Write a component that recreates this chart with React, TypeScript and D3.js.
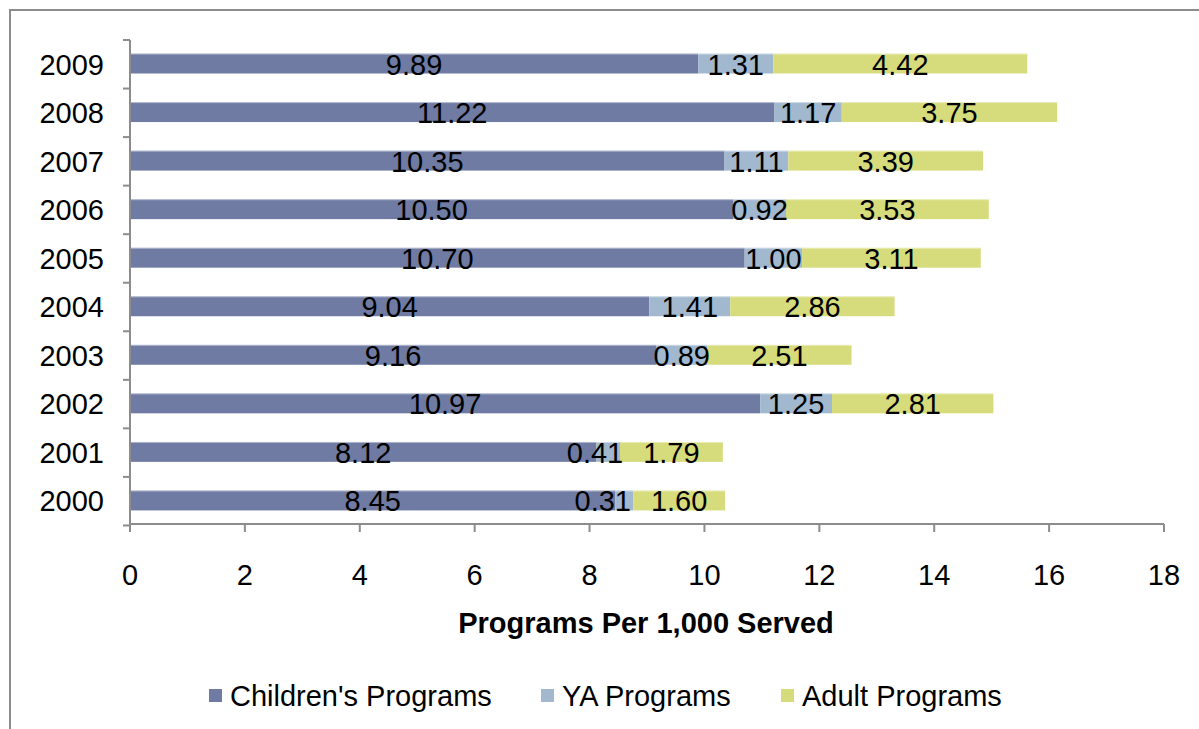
import * as d3 from "d3";

const years = ["2000", "2001", "2002", "2003", "2004", "2005", "2006", "2007", "2008", "2009"];
const childrens = [8.45, 8.12, 10.97, 9.16, 9.04, 10.7, 10.5, 10.35, 11.22, 9.89];
const ya = [0.31, 0.41, 1.25, 0.89, 1.41, 1.0, 0.92, 1.11, 1.17, 1.31];
const adult = [1.6, 1.79, 2.81, 2.51, 2.86, 3.11, 3.53, 3.39, 3.75, 4.42];
const seriesNames = ["Children's Programs", "YA Programs", "Adult Programs"];
const xTicks = [0, 2, 4, 6, 8, 10, 12, 14, 16, 18];

const colors = ["#6f7ba3", "#a1b8cf", "#d6dc7c"];
const axisColor = "#8c8c8c";
const font = "Liberation Sans, Arial, sans-serif";
const fs = 29;

const width = 1199;
const height = 729;
const plotLeft = 130;
const plotRight = 1164;
const plotTop = 40;
const plotBottom = 524;

// rough label width for digits + period in Arial metrics
const labelWidth = (s: string) =>
  s.split("").reduce((w, c) => w + (c === "." ? 0.278 : 0.556), 0) * fs;

const App = () => {
  const xScale = d3.scaleLinear().domain([0, 18]).range([plotLeft, plotRight]);
  const yScale = d3
    .scaleBand()
    .domain([...years].reverse())
    .range([plotTop, plotBottom])
    .paddingInner(0.59)
    .paddingOuter(0.28);
  const step = yScale.step();
  const bandTops = d3.range(years.length + 1).map((i) => plotTop + i * step);
  const bh = yScale.bandwidth();

  // stacked segments, one list per year
  const rows = years.map((year, i) => {
    const vals = [childrens[i], ya[i], adult[i]];
    let acc = 0;
    const segs = vals.map((v, j) => {
      const start = acc;
      acc += v;
      const x0 = xScale(start);
      const x1 = xScale(acc);
      return { year, j, v, text: v.toFixed(2), x0, x1, lx: (x0 + x1) / 2, y: yScale(year)! };
    });
    // nudge the middle label left when it crowds the next one (like Excel does)
    const mid = segs[1];
    const next = segs[2];
    const gap = next.lx - labelWidth(next.text) / 2 - (mid.lx + labelWidth(mid.text) / 2);
    if (gap < 20) mid.lx -= 20 - gap;
    return segs;
  });
  const segments = rows.flat();

  return (
    <svg
      width={width}
      height={height}
      style={{ position: "absolute", left: 0, top: 0, background: "#fff" }}
      fontFamily={font}
    >
      {/* outer border (runs off the right and bottom) */}
      <rect x={10} y={10} width={width + 20} height={height + 20} fill="none" stroke={axisColor} strokeWidth={2} />

      <g className="bars">
        {segments.map((s) => (
          <g key={s.year + s.j}>
            <rect x={s.x0} y={s.y} width={s.x1 - s.x0} height={bh} fill={colors[s.j]} />
            <line x1={s.x0} x2={s.x1} y1={s.y + 0.5} y2={s.y + 0.5} stroke="#fff" strokeOpacity={0.45} />
          </g>
        ))}
      </g>
      <g className="labels">
        {segments.map((s) => (
          <text
            key={s.year + s.j}
            x={s.lx}
            y={s.y + bh / 2 + 1}
            textAnchor="middle"
            dominantBaseline="central"
            fontSize={fs}
            fill="#000"
          >
            {s.text}
          </text>
        ))}
      </g>

      {/* y axis */}
      <line x1={plotLeft} x2={plotLeft} y1={plotTop} y2={plotBottom} stroke={axisColor} strokeWidth={2} />
      {bandTops.map((t, i) => (
        <line key={i} x1={plotLeft - 7} x2={plotLeft} y1={t} y2={t} stroke={axisColor} strokeWidth={2} />
      ))}
      {years.map((y) => (
        <text
          key={y}
          x={104}
          y={yScale(y)! + bh / 2 + 1}
          textAnchor="end"
          dominantBaseline="central"
          fontSize={fs}
          fill="#000"
        >
          {y}
        </text>
      ))}

      {/* x axis */}
      <line x1={plotLeft} x2={plotRight} y1={plotBottom} y2={plotBottom} stroke={axisColor} strokeWidth={2} />
      {xTicks.map((t) => (
        <g key={t}>
          <line x1={xScale(t)} x2={xScale(t)} y1={plotBottom} y2={plotBottom + 8} stroke={axisColor} strokeWidth={2} />
          <text x={xScale(t)} y={585} textAnchor="middle" fontSize={fs} fill="#000">
            {t}
          </text>
        </g>
      ))}
      <text x={646} y={633} textAnchor="middle" fontSize={29} fontWeight="bold" fill="#000">
        Programs Per 1,000 Served
      </text>

      {/* legend */}
      {seriesNames.map((name, i) => {
        const lx = [209, 541, 781][i];
        return (
          <g key={name}>
            <rect x={lx} y={689} width={13} height={13} fill={colors[i]} />
            <text x={lx + 21} y={706} fontSize={fs} fill="#000">
              {name}
            </text>
          </g>
        );
      })}
    </svg>
  );
};

export default App;
